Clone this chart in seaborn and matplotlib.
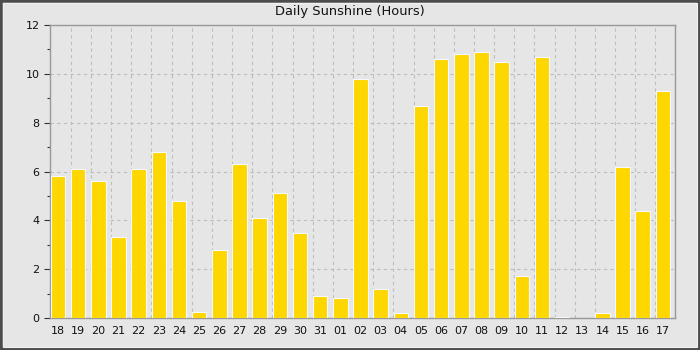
import matplotlib
matplotlib.use("Agg")
import matplotlib.pyplot as plt
from matplotlib.patches import Rectangle
from matplotlib.ticker import MultipleLocator, FixedLocator
import seaborn as sns
import pandas as pd

days = ["18", "19", "20", "21", "22", "23", "24", "25", "26", "27", "28", "29", "30", "31",
        "01", "02", "03", "04", "05", "06", "07", "08", "09", "10", "11", "12", "13", "14",
        "15", "16", "17"]
sunshine = [5.8, 6.1, 5.6, 3.3, 6.1, 6.8, 4.8, 0.25, 2.8, 6.3, 4.1, 5.1, 3.5, 0.9,
            0.8, 9.8, 1.2, 0.2, 8.7, 10.6, 10.8, 10.9, 10.5, 1.7, 10.7, 0.05, 0.0, 0.2,
            6.2, 4.4, 9.3]

df = pd.DataFrame({"day": days, "hours": sunshine})

sns.set_theme(style="ticks")
plt.rcParams["font.family"] = ["DejaVu Sans"]

bg = "#e6e6e6"
fig = plt.figure(figsize=(7, 3.5), dpi=100, facecolor=bg)
ax = fig.add_axes([50 / 700, 1 - 318 / 350, 625 / 700, 293 / 350])
ax.set_facecolor(bg)

sns.barplot(data=df, x="day", y="hours", order=days, color="#ffd700", saturation=1,
            width=0.72, edgecolor="#f4f8ff", linewidth=0.8, ax=ax, zorder=3)

# no outline on zero-height bars
for p in ax.patches:
    if p.get_height() == 0:
        p.set_linewidth(0)

n = len(days)
ax.set_xlim(-0.4, n - 0.4)
ax.set_ylim(0, 12)
ax.yaxis.set_major_locator(MultipleLocator(2))
ax.yaxis.set_minor_locator(MultipleLocator(1))
ax.xaxis.set_minor_locator(FixedLocator([i - 0.37 for i in range(1, n)]))

ax.grid(False)
ax.grid(which="major", axis="y", linestyle=(0, (3, 3)), color="#bdbdbd", linewidth=0.8, zorder=0)
ax.grid(which="minor", axis="x", linestyle=(0, (3, 3)), color="#bdbdbd", linewidth=0.8, zorder=0)
ax.set_axisbelow(True)

for s in ax.spines.values():
    s.set_visible(True)
    s.set_color("#999999")
    s.set_linewidth(1.0)

ax.tick_params(axis="x", which="both", length=0, labelsize=8, pad=6, colors="#111111")
ax.tick_params(axis="y", which="major", length=4, width=0.8, color="#333333", labelsize=8, colors="#111111")
ax.tick_params(axis="y", which="minor", length=2, width=0.8, color="#333333")
ax.tick_params(axis="y", which="major", colors="#333333", labelcolor="#111111")
ax.set_xlabel("")
ax.set_ylabel("")

fig.text(0.5, 1 - 12 / 350, "Daily Sunshine (Hours)", ha="center", va="center",
         fontsize=9.4, color="#111111")

# frame
fig.patches.append(Rectangle((0, 0), 1, 1, transform=fig.transFigure, fill=False,
                             edgecolor="#4d4d4d", linewidth=4.0, zorder=10))
fig.patches.append(Rectangle((3 / 700, 3 / 350), 694 / 700, 344 / 350, transform=fig.transFigure,
                             fill=False, edgecolor="#f2f2f2", linewidth=0.8, zorder=10))

fig.savefig("out.png", dpi=100, facecolor=bg)
